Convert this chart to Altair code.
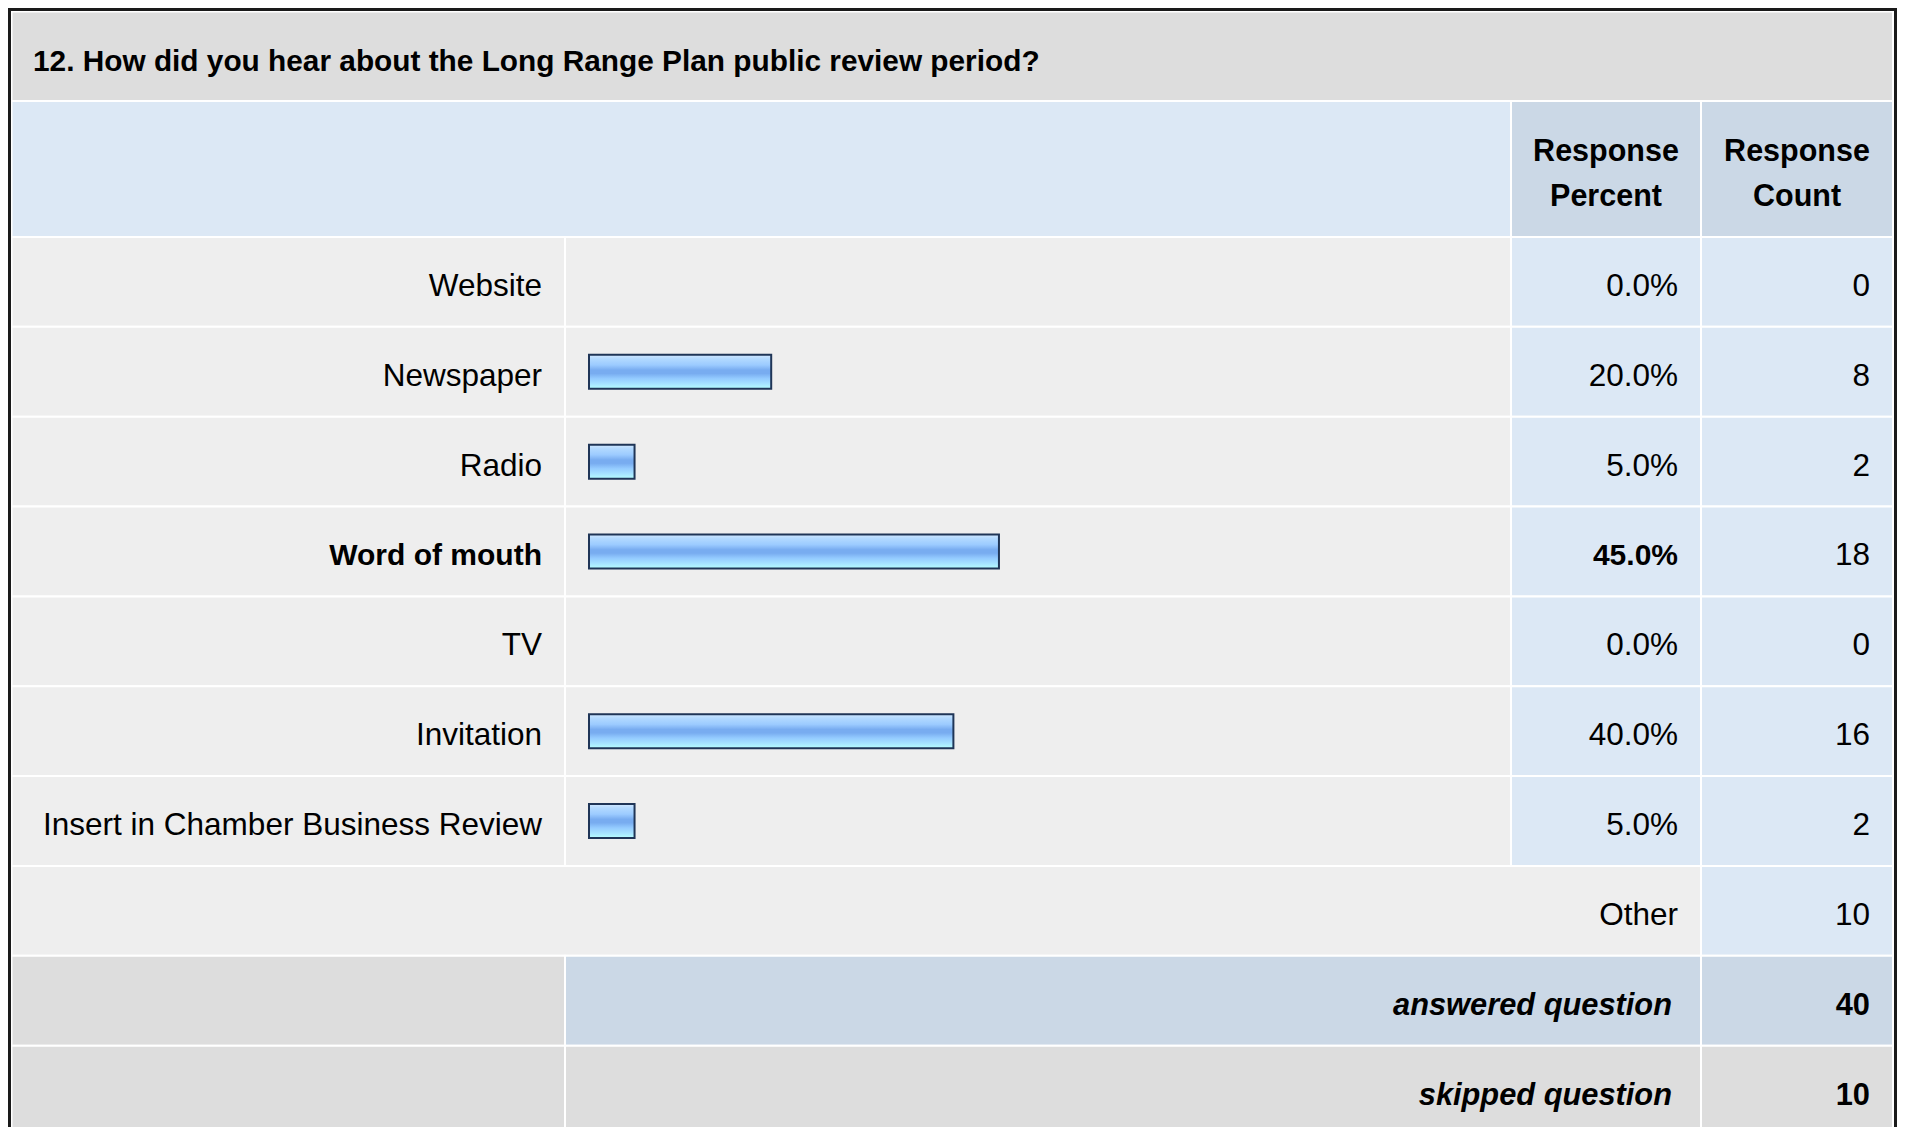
import altair as alt
import pandas as pd

# ---------------- data ----------------
title = "12. How did you hear about the Long Range Plan public review period?"
header_percent = ["Response", "Percent"]
header_count = ["Response", "Count"]
options = ["Website", "Newspaper", "Radio", "Word of mouth", "TV", "Invitation",
           "Insert in Chamber Business Review"]
percents = [0.0, 20.0, 5.0, 45.0, 0.0, 40.0, 5.0]
counts = [0, 8, 2, 18, 0, 16, 2]
other_label = "Other"
other_count = 10
summary_labels = ["answered question", "skipped question"]
summary_counts = [40, 10]

# ---------------- tables ----------------
row_keys = options + [other_label] + summary_labels
opts = pd.DataFrame({"row": options, "pct": percents, "count": counts})
opts["frac"] = opts["pct"] / 100.0
max_count = max(counts)
other_df = pd.DataFrame({"row": [other_label], "count": [other_count]})
summ_df = pd.DataFrame({"row": summary_labels, "count": summary_counts})
one = pd.DataFrame({"t": [title]})

# ---------------- layout / style ----------------
FONT = "Liberation Sans"
FS = 31.5
FS_BOLD = 30
W, H = 1889, 1119
L, B1, B2, B3, R = 3.5, 557, 1503, 1693, 1885
T, HT, Y0 = 3.5, 93, 229
PITCH = 89.85

C_TITLE = "#dddddd"
C_LIGHT = "#eeeeee"
C_BLUE = "#dce8f5"
C_STEEL = "#cbd8e6"
C_GRAY = "#dddddd"

yscale = alt.Scale(domain=row_keys, range=[Y0, Y0 + PITCH * len(row_keys)],
                   paddingInner=0, paddingOuter=0)
xscale = alt.Scale(domain=[0, 100], range=[581, 1492], nice=False, zero=True)
Y = alt.Y("row:N", scale=yscale, axis=None)


def fixed_cell(x0, x1, y0, y1, fill):
    return alt.Chart(one).mark_rect(fill=fill, stroke="white", strokeWidth=2).encode(
        x=alt.value(x0), x2=alt.value(x1), y=alt.value(y0), y2=alt.value(y1))


def row_cell(df, x0, x1, fill):
    return alt.Chart(df).mark_rect(fill=fill, stroke="white", strokeWidth=2).encode(
        y=Y, x=alt.value(x0), x2=alt.value(x1))


layers = []
# title & header cells
layers.append(fixed_cell(L, R, T, HT, C_TITLE))
layers.append(fixed_cell(L, B2, HT, Y0, C_BLUE))
layers.append(fixed_cell(B2, B3, HT, Y0, C_STEEL))
layers.append(fixed_cell(B3, R, HT, Y0, C_STEEL))
# option rows
layers.append(row_cell(opts, L, B1, C_LIGHT))
layers.append(row_cell(opts, B1, B2, C_LIGHT))
layers.append(row_cell(opts, B2, B3, C_BLUE))
layers.append(row_cell(opts, B3, R, C_BLUE))
# other row
layers.append(row_cell(other_df, L, B3, C_LIGHT))
layers.append(row_cell(other_df, B3, R, C_BLUE))
# summary rows
ans = summ_df.iloc[[0]]
skp = summ_df.iloc[[1]]
layers.append(row_cell(ans, L, B1, C_GRAY))
layers.append(row_cell(ans, B1, B3, C_STEEL))
layers.append(row_cell(ans, B3, R, C_STEEL))
layers.append(row_cell(skp, L, B1, C_GRAY))
layers.append(row_cell(skp, B1, B3, C_GRAY))
layers.append(row_cell(skp, B3, R, C_GRAY))

# bars
gradient = alt.Gradient(
    gradient="linear", x1=0, y1=0, x2=0, y2=1,
    stops=[
        alt.GradientStop(color="#d2e8ff", offset=0.0),
        alt.GradientStop(color="#b2d9ff", offset=0.12),
        alt.GradientStop(color="#9ccbff", offset=0.3),
        alt.GradientStop(color="#78acf0", offset=0.45),
        alt.GradientStop(color="#78acf0", offset=0.55),
        alt.GradientStop(color="#94cbff", offset=0.7),
        alt.GradientStop(color="#a6e2ff", offset=0.85),
        alt.GradientStop(color="#b6ffff", offset=1.0),
    ],
)
layers.append(
    alt.Chart(opts).transform_filter("datum.pct > 0")
    .mark_bar(size=34, fill=gradient, stroke="#1f3557", strokeWidth=2)
    .encode(y=Y, x=alt.X("pct:Q", scale=xscale, axis=None))
)

# texts
def txt(**kw):
    base = dict(font=FONT, fontSize=FS, color="#000000", baseline="alphabetic", dy=14)
    base.update(kw)
    return base

normal = f"datum.count != {max_count}"
bold = f"datum.count == {max_count}"

layers.append(alt.Chart(opts).transform_filter(normal).mark_text(**txt(align="right"))
              .encode(y=Y, x=alt.value(534), text="row:N"))
layers.append(alt.Chart(opts).transform_filter(bold).mark_text(**txt(align="right", fontWeight="bold", fontSize=FS_BOLD))
              .encode(y=Y, x=alt.value(534), text="row:N"))
layers.append(alt.Chart(opts).transform_filter(normal).mark_text(**txt(align="right"))
              .encode(y=Y, x=alt.value(1670), text=alt.Text("frac:Q", format=".1%")))
layers.append(alt.Chart(opts).transform_filter(bold).mark_text(**txt(align="right", fontWeight="bold", fontSize=FS_BOLD))
              .encode(y=Y, x=alt.value(1670), text=alt.Text("frac:Q", format=".1%")))
layers.append(alt.Chart(opts).mark_text(**txt(align="right"))
              .encode(y=Y, x=alt.value(1862), text=alt.Text("count:Q", format="d")))
# other
layers.append(alt.Chart(other_df).mark_text(**txt(align="right"))
              .encode(y=Y, x=alt.value(1670), text="row:N"))
layers.append(alt.Chart(other_df).mark_text(**txt(align="right"))
              .encode(y=Y, x=alt.value(1862), text=alt.Text("count:Q", format="d")))
# summary
layers.append(alt.Chart(summ_df).mark_text(**txt(align="right", fontWeight="bold", fontStyle="italic", fontSize=30.8))
              .encode(y=Y, x=alt.value(1664), text="row:N"))
layers.append(alt.Chart(summ_df).mark_text(**txt(align="right", fontWeight="bold", fontSize=30.8))
              .encode(y=Y, x=alt.value(1862), text=alt.Text("count:Q", format="d")))

# title & header text
layers.append(alt.Chart(one).mark_text(font=FONT, fontSize=29.8, fontWeight="bold", color="#000000",
                                       align="left", baseline="alphabetic")
              .encode(x=alt.value(25), y=alt.value(63), text="t:N"))
layers.append(alt.Chart(one).mark_text(font=FONT, fontSize=30.5, fontWeight="bold", color="#000000",
                                       align="center", baseline="alphabetic", lineHeight=45,
                                       text=header_percent)
              .encode(x=alt.value(1598), y=alt.value(152.5)))
layers.append(alt.Chart(one).mark_text(font=FONT, fontSize=30.5, fontWeight="bold", color="#000000",
                                       align="center", baseline="alphabetic", lineHeight=45,
                                       text=header_count)
              .encode(x=alt.value(1789), y=alt.value(152.5)))

# outer border
layers.append(alt.Chart(one).mark_rect(fillOpacity=0, stroke="#1a1a1a", strokeWidth=3)
              .encode(x=alt.value(1.5), x2=alt.value(1887.5), y=alt.value(1.5), y2=alt.value(1400)))

chart = alt.layer(*layers).properties(
    width=W, height=H, padding=0, background="white"
).configure_view(stroke=None)

chart.save("out.html", embed_options={"renderer": "svg", "actions": False})
